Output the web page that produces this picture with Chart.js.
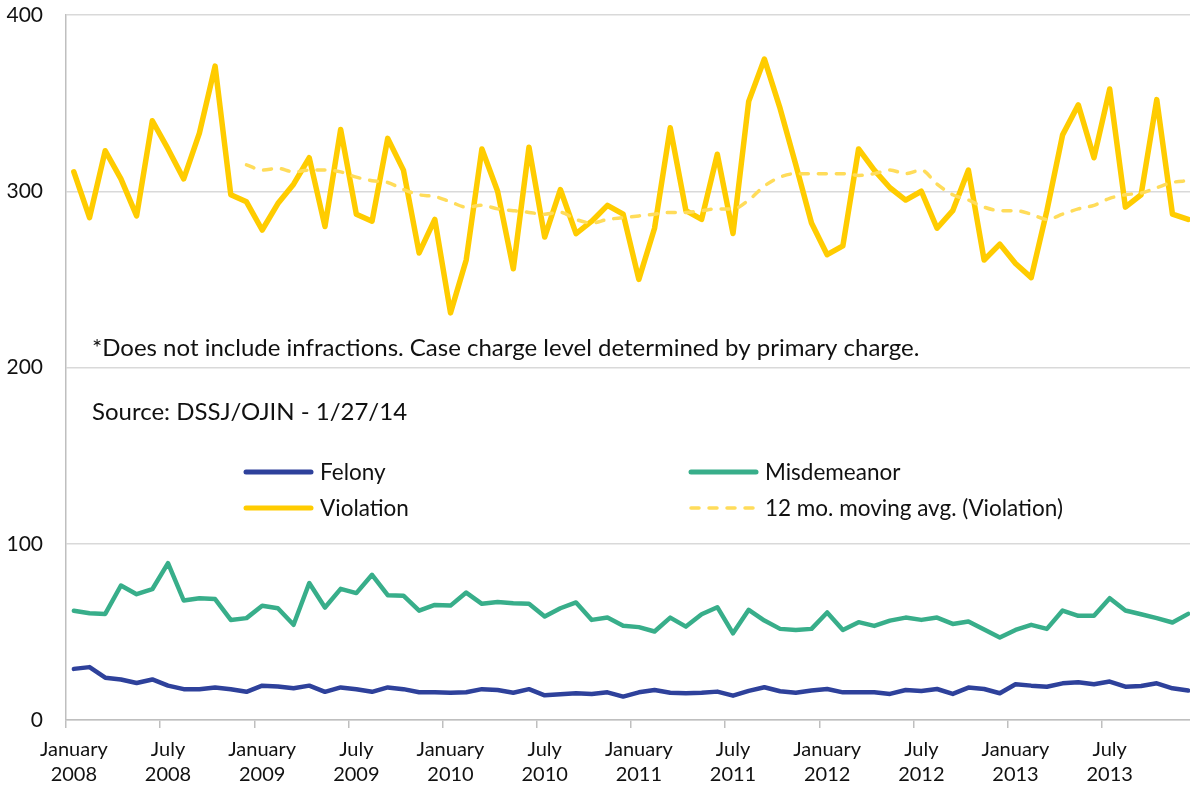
<!DOCTYPE html>
<html>
<head>
<meta charset="utf-8">
<script src="https://cdn.jsdelivr.net/npm/chart.js@4"></script>
<style>
  html, body { margin: 0; padding: 0; overflow: hidden; background: #fff; }
  #wrap { width: 1200px; height: 788px; }
</style>
</head>
<body>
<div id="wrap"><canvas id="caseChart"></canvas></div>
<script>
// Case charge levels by month, Jan 2008 - Dec 2013
const years = [2008, 2009, 2010, 2011, 2012, 2013];
const monthNames = ['January', 'February', 'March', 'April', 'May', 'June',
  'July', 'August', 'September', 'October', 'November', 'December'];

const felony = [29, 30, 24, 23, 21, 23, 19.5, 17.5, 17.5, 18.5, 17.5, 16,
  19.5, 19, 18, 19.5, 16, 18.5, 17.5, 16, 18.5, 17.5, 15.7, 15.7,
  15.5, 15.7, 17.5, 17, 15.5, 17.5, 14, 14.6, 15.2, 14.8, 15.7, 13.3,
  15.7, 17, 15.5, 15.2, 15.5, 16.1, 13.8, 16.5, 18.6, 16.3, 15.5, 16.7,
  17.6, 15.7, 15.7, 15.7, 14.8, 17, 16.5, 17.6, 14.8, 18.4, 17.6, 15.2,
  20.3, 19.5, 18.9, 20.8, 21.4, 20.3, 21.8, 18.9, 19.3, 20.8, 18, 16.7];

const misdemeanor = [62, 60.6, 60.2, 76.3, 71.4, 74.2, 89, 67.8, 69.1, 68.6, 56.8, 57.8,
  64.8, 63.4, 54, 77.7, 63.8, 74.4, 72, 82.4, 70.8, 70.5, 62, 65.3,
  64.9, 72.3, 65.9, 66.9, 66.3, 65.9, 58.7, 63.4, 66.7, 56.8, 58.1, 53.5,
  52.7, 50.2, 58.1, 53, 60, 64, 49.2, 62.5, 56.4, 51.7, 51.1, 51.7,
  61, 51.1, 55.5, 53.4, 56.4, 58.1, 56.8, 58.1, 54.5, 55.9, 51.3, 46.8,
  51.1, 54, 51.7, 62.1, 59.1, 59.1, 69.1, 62.1, 60, 57.8, 55.3, 60.2];

const violation = [311, 285, 323, 307, 286, 340, 324, 307, 333, 371, 298, 294,
  278, 293, 304, 319, 280, 335, 287, 283, 330, 312, 265, 284,
  231, 261, 324, 300, 256, 325, 274, 301, 276, 283, 292, 287,
  250, 279, 336, 289, 284, 321, 276, 351, 375, 347, 315, 282,
  264, 269, 324, 312, 302, 295, 300, 279, 289, 312, 261, 270,
  259, 251, 289, 332, 349, 319, 358, 291, 298, 352, 287, 284];

// 12 month moving average as drawn on the original
const violationAvg = [null, null, null, null, null, null, null, null, null, null, null, 315,
  312, 313, 311, 312, 312, 311, 308, 306, 305, 301, 298, 297,
  294, 291, 292, 290, 289, 288, 287, 288, 284, 282, 284, 285,
  286, 287, 288, 288, 289, 290, 290, 295, 303, 308, 310, 310,
  310, 310, 309, 310, 312, 310, 312, 304, 298, 295, 291, 289,
  289, 287, 284, 287, 290, 292, 296, 298, 299, 302, 305, 306];

const yTicks = [0, 100, 200, 300, 400];
const noteLines = [
  '*Does not include infractions. Case charge level determined by primary charge.',
  'Source: DSSJ/OJIN - 1/27/14'
];

const labels = [];
years.forEach(y => monthNames.forEach(m => labels.push([m, String(y)])));

const FONT = 'Lato, "Open Sans", sans-serif';
const colors = {
  felony: '#2e419b',
  misdemeanor: '#38ae8a',
  violation: '#ffcc00',
  avg: '#ffdc5a'
};

// legend + notes drawn inside the plot area like the original
const notesAndLegend = {
  id: 'notesAndLegend',
  afterDraw(chart) {
    const c = chart.ctx;
    c.save();
    c.fillStyle = '#111';
    c.textBaseline = 'middle';
    c.font = '24px ' + FONT;
    c.fillText(noteLines[0], 92, 348);
    c.fillText(noteLines[1], 92, 412);

    const items = [
      { text: 'Felony', color: colors.felony, x: 243, y: 472, dash: [] },
      { text: 'Misdemeanor', color: colors.misdemeanor, x: 688, y: 472, dash: [] },
      { text: 'Violation', color: colors.violation, x: 243, y: 508, dash: [] },
      { text: '12 mo. moving avg. (Violation)', color: colors.avg, x: 688, y: 508, dash: [8, 10] }
    ];
    c.font = '22.5px ' + FONT;
    items.forEach(it => {
      c.beginPath();
      c.setLineDash(it.dash);
      c.lineCap = 'round';
      c.lineWidth = it.dash.length ? 3.5 : 5;
      c.strokeStyle = it.color;
      c.moveTo(it.x + 3, it.y);
      c.lineTo(it.x + 68, it.y);
      c.stroke();
      c.setLineDash([]);
      c.fillStyle = '#111';
      c.fillText(it.text, it.x + 77, it.y + 1);
    });
    c.restore();
  }
};

const ctx = document.getElementById('caseChart').getContext('2d');
const caseChart = new Chart(ctx, {
  type: 'line',
  data: {
    labels: labels,
    datasets: [
      {
        label: 'Felony',
        data: felony,
        borderColor: colors.felony,
        borderWidth: 4.5,
        order: 2
      },
      {
        label: 'Misdemeanor',
        data: misdemeanor,
        borderColor: colors.misdemeanor,
        borderWidth: 4.5,
        order: 2
      },
      {
        label: 'Violation',
        data: violation,
        borderColor: colors.violation,
        borderWidth: 5.5,
        order: 2
      },
      {
        label: '12 mo. moving avg. (Violation)',
        data: violationAvg,
        borderColor: colors.avg,
        borderWidth: 3.5,
        borderDash: [8, 10],
        borderCapStyle: 'round',
        cubicInterpolationMode: 'monotone',
        order: 1
      }
    ]
  },
  options: {
    responsive: true,
    maintainAspectRatio: false,
    animation: false,
    layout: { padding: { top: 15, right: 4, left: 0, bottom: 0 } },
    elements: {
      point: { radius: 0 },
      line: { tension: 0, borderCapStyle: 'round', borderJoinStyle: 'round', fill: false }
    },
    plugins: {
      legend: { display: false },
      tooltip: { enabled: false }
    },
    scales: {
      x: {
        offset: true,
        afterFit: s => { s.height = 68; },
        grid: {
          offset: true,
          drawOnChartArea: false,
          tickLength: 8,
          lineWidth: 1.5,
          color: c => (c.index % 6 === 0 ? '#bfbfbf' : 'rgba(0,0,0,0)')
        },
        border: { color: '#bfbfbf', width: 1.5 },
        ticks: {
          autoSkip: false,
          maxRotation: 0,
          padding: 9,
          color: '#111',
          font: { family: FONT, size: 20, lineHeight: 1.25 },
          callback: function (val, i) {
            return i % 6 === 0 ? labels[i] : '';
          }
        }
      },
      y: {
        min: 0,
        max: 400,
        afterFit: s => { s.width = 66; },
        afterBuildTicks: s => { s.ticks = yTicks.map(v => ({ value: v })); },
        grid: {
          color: '#d9d9d9',
          lineWidth: 1.5,
          drawTicks: true,
          tickLength: 23,
          tickColor: 'rgba(0,0,0,0)'
        },
        border: { color: '#bfbfbf', width: 1.5 },
        ticks: {
          padding: 0,
          color: '#111',
          font: { family: FONT, size: 21 }
        }
      }
    }
  },
  plugins: [notesAndLegend]
});
</script>
</body>
</html>
